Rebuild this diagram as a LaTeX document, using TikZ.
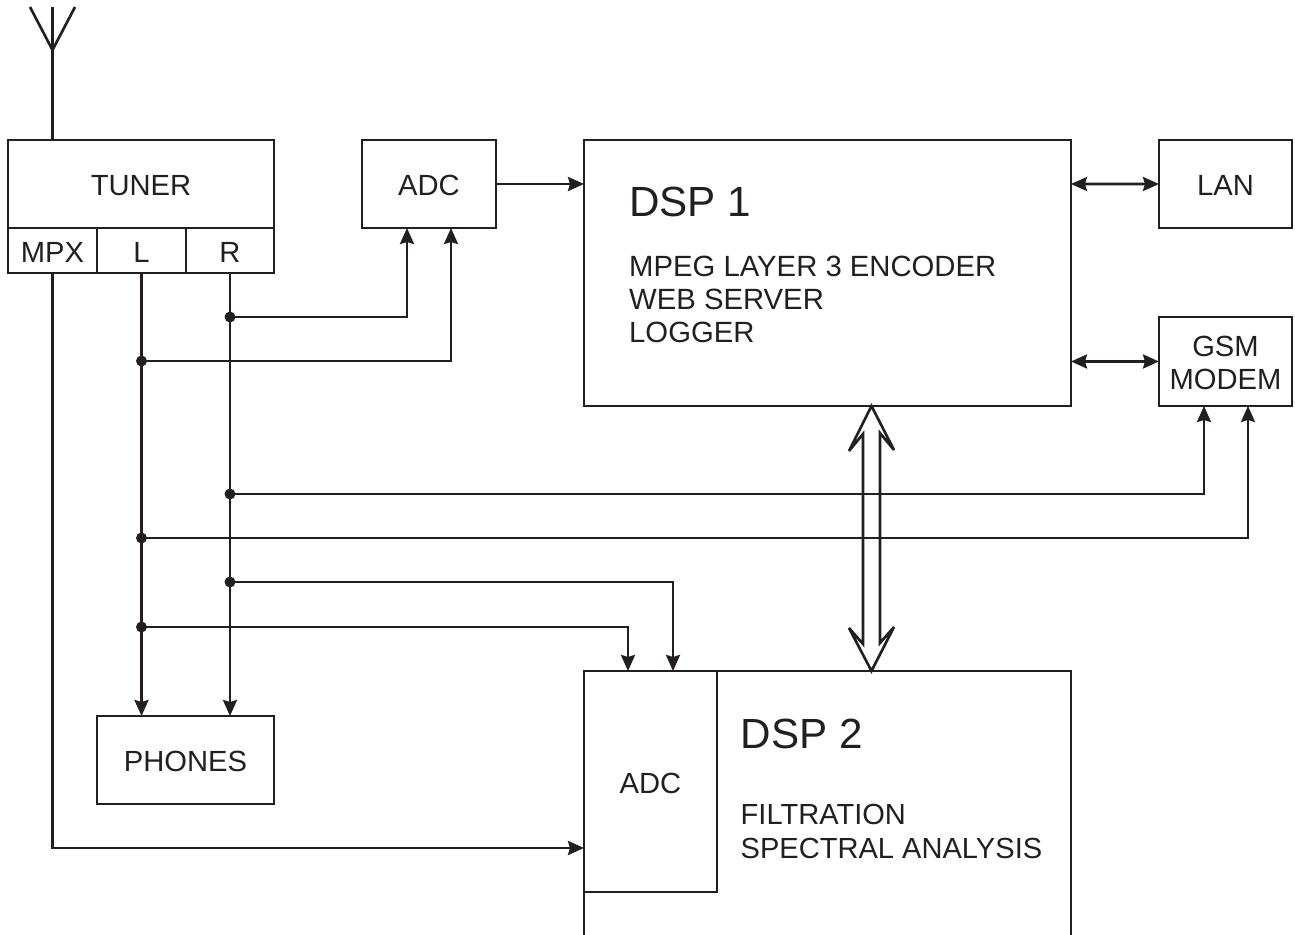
\documentclass[tikz,border=0pt]{standalone}
\usepackage{fontspec}
\setmainfont{Liberation Sans}
\usepackage{tikz}
\usetikzlibrary{calc}
\usetikzlibrary{arrows.meta}
\definecolor{inkblack}{HTML}{231F20}
\tikzset{
  block/.style={rectangle, draw=inkblack, line width=0.75pt, inner sep=0pt, outer sep=0pt, anchor=south west, text=inkblack, text height=2.4mm, font=\fontsize{8.3}{9.4}\selectfont, align=center},
  title/.style={anchor=base west, inner sep=0pt, text=inkblack, font=\fontsize{12}{14}\selectfont},
  duty/.style={anchor=north west, inner sep=0pt, text=inkblack, align=left, font=\fontsize{8.33}{9.4}\selectfont},
  wire/.style={draw=inkblack, line width=0.75pt, miter limit=3, >={Stealth[length=0.16cm,width=0.14cm,inset=0.02cm]}},
  junct/.style={circle, fill=inkblack, inner sep=0pt, minimum size=0.11cm}
}
\begin{document}
\begin{tikzpicture}

\newcommand\yh{0.88cm}

\useasboundingbox (0,0) rectangle (12.95,9.35);
%\draw[step=1cm, gray, very thin, dotted] (0,0) grid (13,9);

\node at (0.08,7.07) [block, minimum height = \yh, minimum width = 2.66cm] (tuner) {TUNER};
\node at (0.08,6.62) [block, minimum height = 0.45cm, minimum width = 0.89cm] (mpx) {MPX};
\node at (0.97,6.62) [block, minimum height = 0.45cm, minimum width = 0.89cm] (left) {L};
\node at (1.86,6.62) [block, minimum height = 0.45cm, minimum width = 0.88cm] (right) {R};
\node at (3.62,7.07) [block, minimum height = \yh, minimum width = 1.34cm] (adc) {ADC};
\node at (5.84,5.29) [block, minimum height = 2.66cm, minimum width = 4.87cm] (dspone) {};
\node at (11.59,7.07) [block, minimum height = \yh, minimum width = 1.33cm] (lan) {LAN};
\node at (11.59,5.29) [block, text height=5.6mm, minimum height = 0.89cm, minimum width = 1.33cm] (gsm) {GSM\\MODEM};
\node at (0.97,1.31) [block, minimum height = \yh, minimum width = 1.77cm] (phones) {PHONES};
\node at (5.84,0.43) [block, minimum height = 2.21cm, minimum width = 1.33cm] (adctwo) {ADC};

\node at (6.285,7.18) [title] (dsponetitle) {DSP 1};
\node at (6.285,6.80) [duty] (dsponeduty) {MPEG LAYER 3 ENCODER\\WEB SERVER\\LOGGER};
\node at (7.40,1.86) [title] (dsptwotitle) {DSP 2};
\node at (7.40,1.31) [duty, font=\fontsize{8.27}{9.4}\selectfont] (dsptwoduty) {FILTRATION\\SPECTRAL ANALYSIS};

% second DSP runs off the page
\coordinate (dsptwonw) at (5.84,2.64);
\coordinate (dsptwone) at (10.71,2.64);
\draw[wire] (5.84,0) -- (dsptwonw) -- (dsptwone) -- (10.71,0);

% aerial
\coordinate (aerialfoot) at (0.525,7.95);
\coordinate (aerialfork) at (0.525,8.85);
\draw[wire] (aerialfoot) -- (0.525,9.28);
\draw[wire] (0.30,9.28) -- (aerialfork) -- (0.75,9.28);

% entry points
\coordinate (adcright) at (4.07,7.07);
\coordinate (adcleft) at (4.51,7.07);
\coordinate (gsmright) at (12.04,5.29);
\coordinate (gsmleft) at (12.48,5.29);
\coordinate (twoleft) at (6.28,2.64);
\coordinate (tworight) at (6.73,2.64);
\coordinate (mpxin) at (5.84,0.87);
\coordinate (lanout) at (10.71,7.51);
\coordinate (gsmout) at (10.71,5.735);

\node at (2.30,6.18) [junct] (rone) {};
\node at (1.415,5.74) [junct] (lone) {};
\node at (2.30,4.41) [junct] (rtwo) {};
\node at (1.415,3.97) [junct] (ltwo) {};
\node at (2.30,3.53) [junct] (rthree) {};
\node at (1.415,3.08) [junct] (lthree) {};

\draw[wire, ->] (mpx.south) |- (mpxin);
\draw[wire, ->] (left.south) -- (left.south |- phones.north);
\draw[wire, ->] (right.south) -- (right.south |- phones.north);
\draw[wire, ->] (rone.center) -| (adcright);
\draw[wire, ->] (lone.center) -| (adcleft);
\draw[wire, ->] (rtwo.center) -| (gsmright);
\draw[wire, ->] (ltwo.center) -| (gsmleft);
\draw[wire, ->] (rthree.center) -| (tworight);
\draw[wire, ->] (lthree.center) -| (twoleft);

\draw[wire, ->] (adc.east) -- (adc.east -| dspone.west);
\draw[wire, <->] (lanout) -- (lan.west);
\draw[wire, <->] (gsmout) -- (gsm.west);

% hollow bus between the two DSPs
\coordinate (busup) at (8.715,5.29);
\coordinate (busdown) at (busup |- dsptwonw);
\draw[wire] (busup) -- ++(-0.225,-0.45) -- ++(0.14,0.17) -- ++(0,-2.10)
  -- ++(-0.14,0.16) -- (busdown) -- ++(0.225,0.44) -- ++(-0.14,-0.16) -- ++(0,2.10) -- ++(0.14,-0.17) -- cycle;

\end{tikzpicture}
\end{document}
